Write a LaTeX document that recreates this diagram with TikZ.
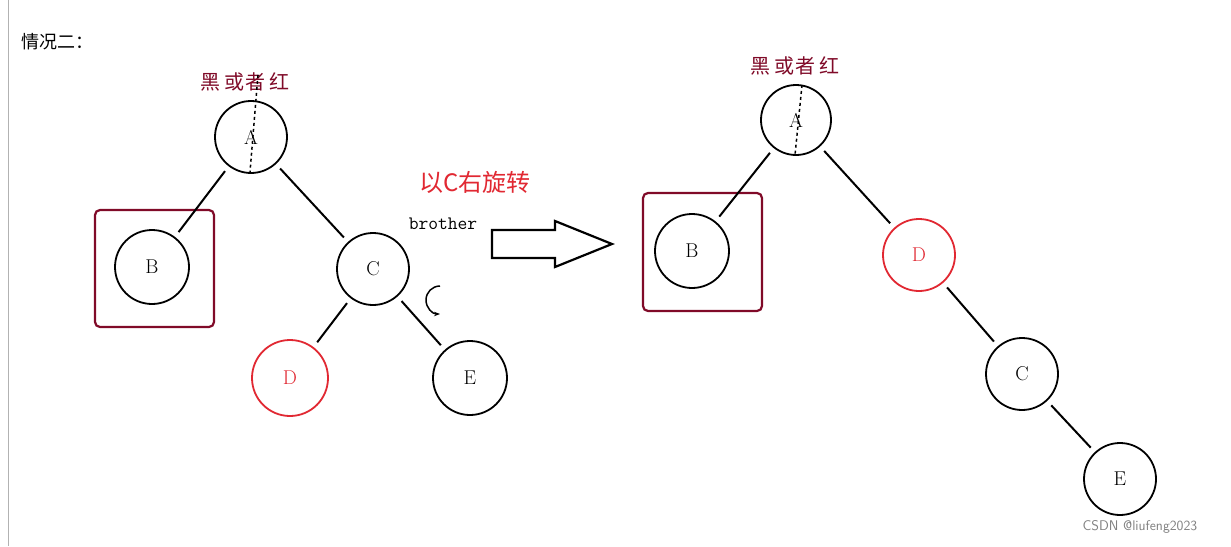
\documentclass[tikz,border=0pt]{standalone}
\usepackage{fontspec}
\newfontfamily\cjk{Noto Sans CJK SC}
\usetikzlibrary{arrows.meta}
\definecolor{dred}{RGB}{128,10,40}
\definecolor{rred}{RGB}{225,40,50}
\tikzset{
 nd/.style={circle,draw=black,line width=1.8pt,minimum size=72pt,inner sep=0pt,font=\fontsize{20}{20}\selectfont},
 rnd/.style={nd,draw=rred,text=rred},
 bx/.style={draw=dred,line width=2.2pt,rounded corners=5pt},
 ed/.style={line width=2pt,shorten <=6pt,shorten >=6pt},
 lab/.style={text=dred,font=\cjk\fontsize{20}{20}\selectfont}
}
\begin{document}
\begin{tikzpicture}[x=1pt,y=-1pt]
\useasboundingbox[fill=white] (0,0) rectangle (1231,546);
\draw[gray!60,line width=1pt] (8,0) -- (8,546);
\node[font=\cjk\fontsize{18}{18}\selectfont,anchor=west] (t) at (18,42) {情况二：};
% left tree
\draw[bx] (95,210) rectangle (214,327);
\node[nd] (A) at (251,137) {A};
\node[nd,minimum size=74pt] (B) at (152,267) {B};
\node[nd] (C) at (373,269) {C};
\node[rnd,minimum size=76pt] (D) at (290,378) {D};
\node[nd,minimum size=74pt] (E) at (470,378) {E};
\draw[ed] (A) -- (B); \draw[ed] (A) -- (C); \draw[ed] (C) -- (D); \draw[ed] (C) -- (E);
\node[lab] (l1) at (245,82) {黑\ 或者\ 红};
\draw[dashed,line width=1.5pt] (258,75) -- (250,172);
\node[text=rred,font=\cjk\fontsize{24}{24}\selectfont] (rot) at (475,182) {以C右旋转};
\node[font=\ttfamily\fontsize{19}{19}\selectfont] (bro) at (443,224) {brother};
\draw[line width=1.5pt,-{Stealth[length=6pt]}] (440,286) arc[start angle=-90,end angle=-270,radius=14];
% block arrow
\draw[line width=2.2pt] (492,230) -- (555,230) -- (555,221) -- (612,244) -- (555,267) -- (555,258) -- (492,258) -- cycle;
% right tree
\draw[bx] (643,193) rectangle (762,311);
\node[nd,minimum size=70pt] (A2) at (796,120) {A};
\node[nd,minimum size=74pt] (B2) at (692,251) {B};
\node[rnd] (D2) at (919,255) {D};
\node[nd] (C2) at (1022,374) {C};
\node[nd] (E2) at (1120,479) {E};
\draw[ed] (A2) -- (B2); \draw[ed] (A2) -- (D2); \draw[ed] (D2) -- (C2); \draw[ed] (C2) -- (E2);
\node[lab] (l2) at (795,66) {黑\ 或者\ 红};
\draw[dashed,line width=1.5pt] (802,85) -- (795,155);
\node[text=gray,font=\fontsize{14}{14}\selectfont\sffamily] (w) at (1140,527) {CSDN @liufeng2023};
\end{tikzpicture}
\end{document}
